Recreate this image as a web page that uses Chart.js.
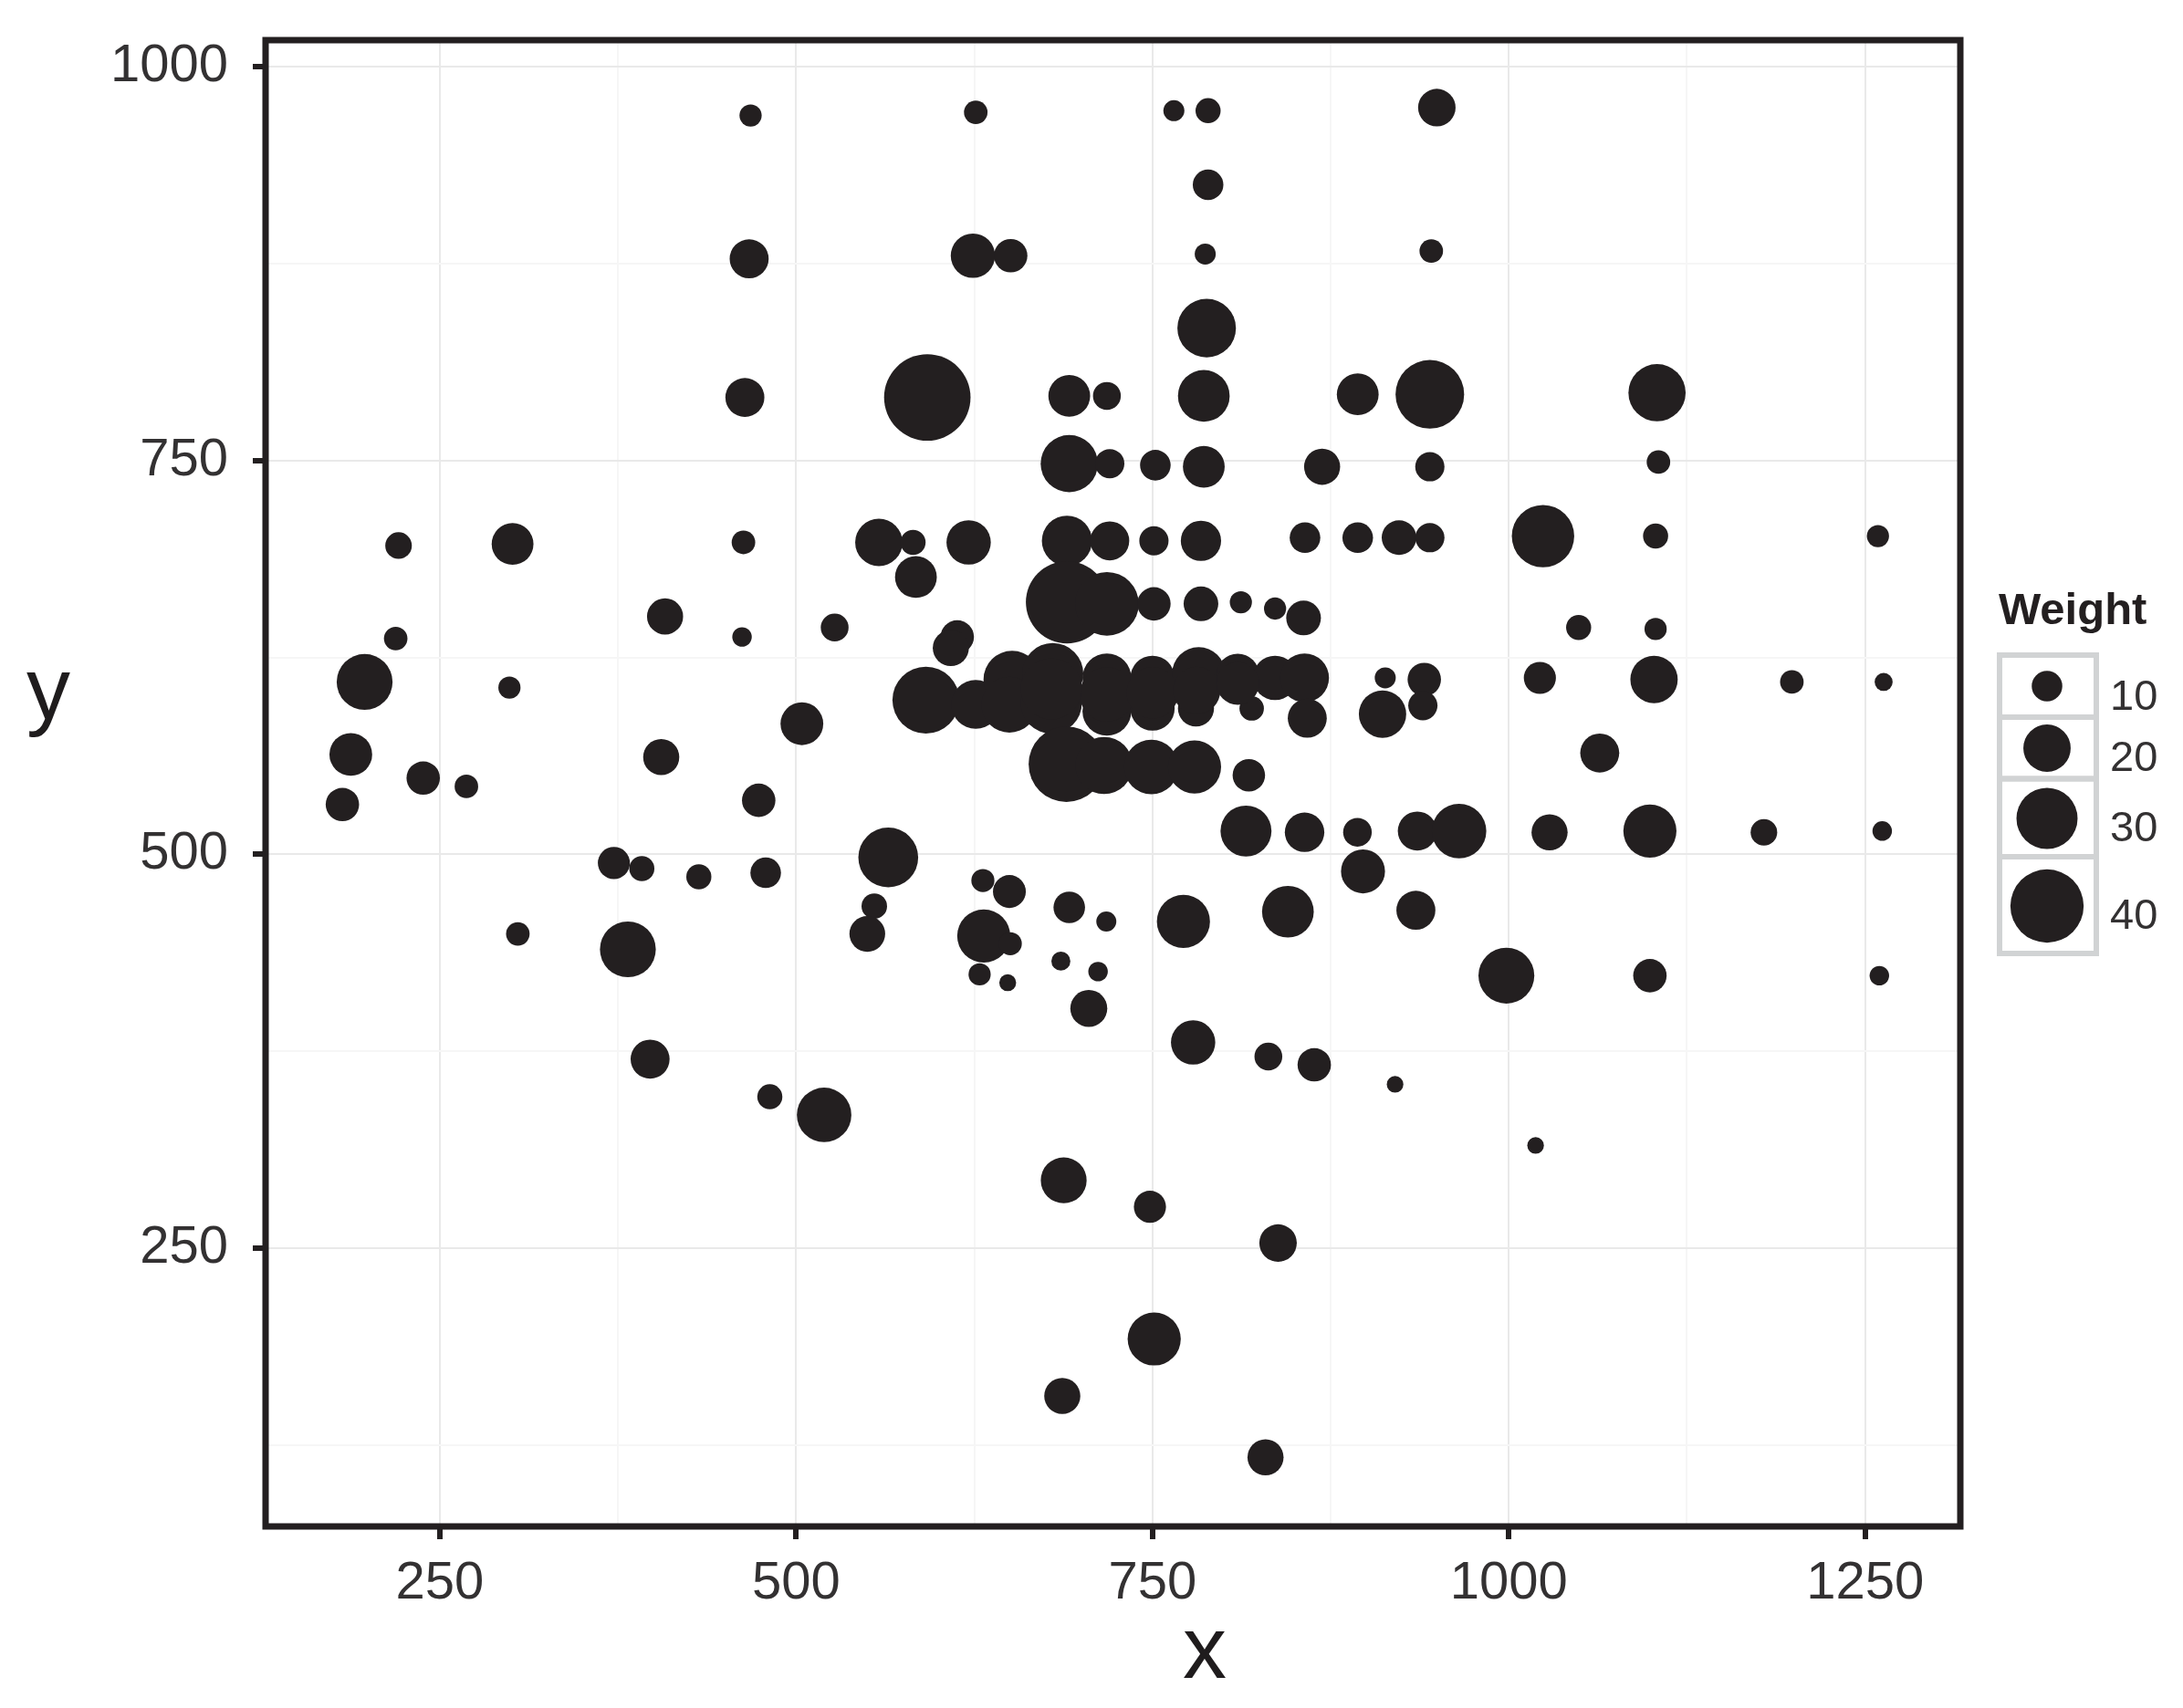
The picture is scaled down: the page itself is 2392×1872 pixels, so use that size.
<!DOCTYPE html>
<html>
<head>
<meta charset="utf-8">
<style>html,body{margin:0;padding:0;background:#fff}canvas{display:block}</style>
<script src="https://cdn.jsdelivr.net/npm/chart.js@4/dist/chart.umd.min.js"></script>
</head>
<body>
<canvas id="c" width="2392" height="1872"></canvas>
<script>
const xValues = [468,626,765,789,949.5,789,467,624,650.5,787,945.6,788,464,592,691.6,718,786,894,944.6,1104,
691.6,720,752,786,869,944.6,1105,221,301,463,558,582,621,690,720,751,784,857,894,923,
944.6,1024,1103,1259,584,408,527,690,718,751,784,812,836,856,1049,1103,219,462,613,608.5,
197.2,298.8,591,626,651.5,649.6,680,679,718,718,750,750,782.4,780.5,809.8,836,856.7,819.6,858.6,913.3,
911.4,940.7,939.7,1021.8,1101.9,1198.6,1263,504,187.5,238.3,268.6,181.6,405.3,473.7,689.6,716,749.2,779.5,817.6,1063.8,
372.1,391.7,431.7,478.6,564.6,815.6,856.7,893.8,935.8,965.1,1028.6,1099,1179,1262,897.7,554.8,549.9,631,649.6,631.6,
650.2,628.7,648.4,691.6,717.6,685.7,711.8,705.3,304.7,381.9,771.7,845,934.8,998.3,1099,1260,397.5,481.5,519.6,778.5,
831.3,863.5,920.2,1018.8,687.7,748.2,838.1,751.2,686.7,829.3,
718,750,781,809.8,679];
const yValues = [969,971,972,972,974,925,878,880,880,881,883,834,790,790,791,791,791,792,792,793,
748,748,747,746,746,746,749,696,697,698,698,698,698,699,699,699,699,701,701,701,
701,702,702,702,676,651,644,660,659,659,659,660,656,650,644,643,637,638,638,631,
609.4,605.8,597.9,595.2,611,595,614.7,596,612,590.8,612,592.6,614.7,592.6,613.8,612,612,592.6,586.4,612,
589,611,594.4,612,611,609.4,609.4,582.9,563.4,548.4,543.1,531.6,561.7,534.3,557.2,556.4,555.5,555.5,550.2,564.3,
494.5,491,485.7,488.3,498,514.8,514,514,514.8,514.8,514,514.8,514,514.8,489.2,467.1,449.5,483.4,476.4,448.2,
443.3,423.8,418.5,466.3,457.4,432.2,425.6,402.2,449.5,439.7,457.4,463.6,464.5,423,423,423,370,346.1,334.6,380.6,
371.7,366.4,354,315.2,293.1,276.3,253.3,192.4,156.2,117.3,
601.5,602.5,604,608.5,605];
const weights = [6,6.6,5.5,7.3,13.8,10,14.7,18,11.5,5.5,6.6,28,14.7,52,16.4,8.6,23,16.4,36,27,
27,9.3,10,16.4,13,9.3,6.6,8,16.4,6.6,20,7.3,18,22,14.7,9.3,15.5,10,10,12.2,
9.3,31,7.3,6,16.4,13,8.6,48,32,11.5,12.2,6,6,12.2,7.3,6,6.6,4.9,11.5,13,
26,6,34.6,21,27,26,30,30,21,21,18,18,24,13,17,18,21,7,14.7,5.5,
20,11.5,9.3,10.8,20,6.6,4.3,17,17,11.5,6.6,11.5,13,11.5,42,27,25,24,11,14.7,
10.8,7.3,7.3,10,29,22.5,15,9,14.7,25,13,24,8,4.9,17.8,7.5,12.8,6.4,11.2,24,
6.4,6,3.9,10.5,5.1,4.7,4.9,13.5,6.6,26,24,23,14.7,26,11.5,4.9,14.7,7.3,25,18,
8.6,11.5,3.8,3.8,19,10.8,13.8,24,13,13,
25,23,20,17,30];
const xTicks = [250,375,500,625,750,875,1000,1125,1250];
const yTicks = [125,250,375,500,625,750,875,1000];
const labelledTicks = [250,500,750,1000,1250];
const legendWeights = [10,20,30,40];
const xTitle = 'x', yTitle = 'y', legendTitle = 'Weight';

const INK = '#231f20', TEXT = '#333132', FONT = '"Liberation Sans", Arial, sans-serif';
const radiusOf = w => 3.93 * Math.pow(w, 0.63);
const isMajor = v => labelledTicks.includes(v);

const frameAndLegend = {
  id: 'frameAndLegend',
  afterDraw(chart) {
    const ctx = chart.ctx, a = chart.chartArea;
    ctx.save();
    ctx.strokeStyle = INK; ctx.lineWidth = 7;
    ctx.strokeRect(a.left, a.top, a.right - a.left, a.bottom - a.top);

    ctx.fillStyle = '#1f1c1d'; ctx.textBaseline = 'middle'; ctx.textAlign = 'center';
    ctx.font = '96px ' + FONT;
    ctx.fillText(xTitle, 1320, 1813);
    ctx.fillText(yTitle, 53, 762);

    ctx.textAlign = 'left'; ctx.textBaseline = 'alphabetic';
    ctx.font = 'bold 49px ' + FONT; ctx.fillStyle = '#231f20';
    ctx.fillText(legendTitle, 2190, 684);

    const seps = [718, 786, 853.5, 939, 1045];
    const cy = [752, 820, 897, 993];
    const ly = [765, 832, 909, 1005];
    ctx.strokeStyle = '#d1d3d4'; ctx.lineWidth = 6;
    legendWeights.forEach((w, i) => {
      ctx.strokeRect(2191, seps[i], 106, seps[i + 1] - seps[i]);
    });
    legendWeights.forEach((w, i) => {
      ctx.beginPath(); ctx.arc(2243, cy[i], radiusOf(w), 0, Math.PI * 2);
      ctx.fillStyle = INK; ctx.fill();
      ctx.fillStyle = TEXT; ctx.font = '47px ' + FONT; ctx.textBaseline = 'middle';
      ctx.fillText(String(w), 2312, ly[i]);
    });
    ctx.restore();
  }
};

new Chart(document.getElementById('c'), {
  type: 'bubble',
  data: {
    datasets: [{
      data: xValues.map((x, i) => ({ x, y: yValues[i], r: radiusOf(weights[i]) })),
      backgroundColor: INK, borderWidth: 0, hoverRadius: 0, hitRadius: 0
    }]
  },
  options: {
    responsive: false, animation: false,
    layout: { autoPadding: false, padding: { top: 44, right: 244, left: 0, bottom: 0 } },
    plugins: { legend: { display: false }, tooltip: { enabled: false }, title: { display: false } },
    scales: {
      x: {
        type: 'linear', min: 127.7, max: 1316.8,
        afterFit: s => { s.height = 199; s.paddingLeft = 0; s.paddingRight = 0; },
        afterBuildTicks: s => { s.ticks = xTicks.map(value => ({ value })); },
        border: { display: false },
        grid: {
          color: c => isMajor(c.tick.value) ? '#e9e9e9' : '#f6f6f6',
          lineWidth: 2, tickLength: 14,
          tickColor: c => isMajor(c.tick.value) ? INK : 'rgba(0,0,0,0)', tickWidth: 6
        },
        ticks: {
          autoSkip: false, maxRotation: 0, padding: 14, color: TEXT,
          font: { family: FONT, size: 58 },
          callback: v => isMajor(v) ? String(v) : ''
        }
      },
      y: {
        type: 'linear', min: 73.4, max: 1016.8,
        afterFit: s => { s.width = 291; s.paddingTop = 0; s.paddingBottom = 0; },
        afterBuildTicks: s => { s.ticks = yTicks.map(value => ({ value })); },
        border: { display: false },
        grid: {
          color: c => isMajor(c.tick.value) ? '#e9e9e9' : '#f6f6f6',
          lineWidth: 2, tickLength: 14,
          tickColor: c => isMajor(c.tick.value) ? INK : 'rgba(0,0,0,0)', tickWidth: 6
        },
        ticks: {
          autoSkip: false, padding: 27, color: TEXT,
          font: { family: FONT, size: 58 },
          callback: v => isMajor(v) ? String(v) : ''
        }
      }
    }
  },
  plugins: [frameAndLegend]
});
</script>
</body>
</html>
